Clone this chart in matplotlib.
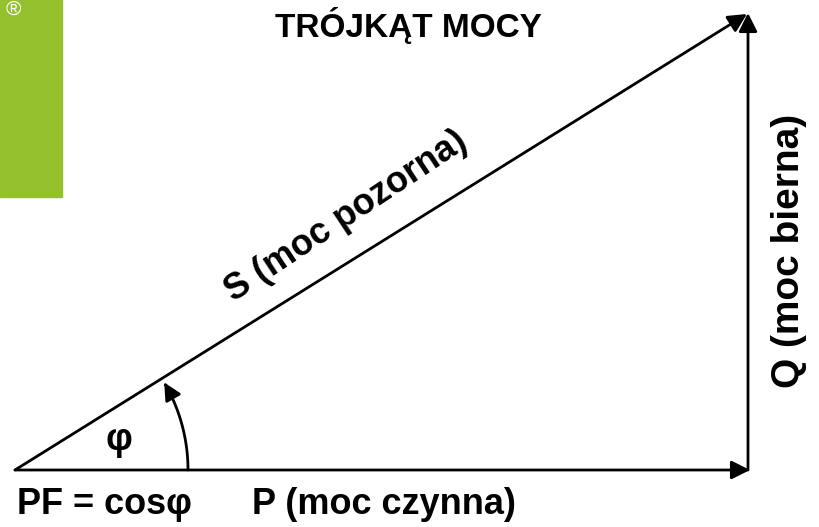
import numpy as np
import matplotlib.pyplot as plt
from matplotlib.patches import Rectangle, FancyArrowPatch
from matplotlib.path import Path

# power triangle (in pixel units of the picture)
origin = [15, 470]
P = 735      # active power, horizontal
Q = 457      # reactive power, vertical
phi_radius = 173

title = 'TRÓJKĄT MOCY'
label_P = 'P (moc czynna)'
label_Q = 'Q (moc bierna)'
label_S = 'S (moc pozorna)'
label_pf = 'PF = cosφ'

plt.rcParams['font.family'] = ['Liberation Sans', 'DejaVu Sans']

fig = plt.figure(figsize=(8.19, 5.27), dpi=100)
ax = fig.add_axes([0, 0, 1, 1])
ax.set_xlim(0, 819)
ax.set_ylim(527, 0)
ax.axis('off')

# green logo strip
ax.add_patch(Rectangle((0, 0), 62, 197, color='#95c12f', zorder=1))
ax.text(13, 9, '®', color='white', fontsize=15, ha='center', va='center')

x0, y0 = origin
end_P = (x0 + P, y0)
end_S = (x0 + P, y0 - Q)
aprops = dict(arrowstyle='-|>', color='black', lw=2.0,
              mutation_scale=28, shrinkA=0, shrinkB=0)

# P
ax.annotate('', xy=end_P, xytext=(x0, y0), arrowprops=aprops)
# Q
ax.annotate('', xy=(end_P[0] - 2, y0 - Q), xytext=(end_P[0] - 2, y0), arrowprops=aprops)
# S
ax.annotate('', xy=(end_S[0] - 3, end_S[1] + 1), xytext=(x0, y0), arrowprops=aprops)

# angle arc
phi = np.degrees(np.arctan2(Q, P))
t = np.radians(np.linspace(0, phi - 1.5, 40))
pts = np.column_stack([x0 + phi_radius * np.cos(t), y0 - phi_radius * np.sin(t)])
arc = FancyArrowPatch(path=Path(pts), arrowstyle='-|>', color='black', lw=2.0,
                      mutation_scale=26, shrinkA=0, shrinkB=0)
ax.add_patch(arc)

ax.text(119, 440, 'φ', fontsize=27, fontweight='bold', ha='center', va='center')

ax.text(408, 25, title, fontsize=24, fontweight='bold', ha='center', va='center')
ax.text(17, 505, label_pf, fontsize=26, fontweight='bold', ha='left', va='center')
ax.text(384, 505, label_P, fontsize=26, fontweight='bold', ha='center', va='center')
ax.text(789, 251, label_Q, fontsize=28, fontweight='bold', ha='center', va='center',
        rotation=90)
ax.text(346, 216, label_S, fontsize=26, fontweight='bold', ha='center', va='center',
        rotation=33.5, rotation_mode='anchor')

fig.savefig('out.png', dpi=100)
